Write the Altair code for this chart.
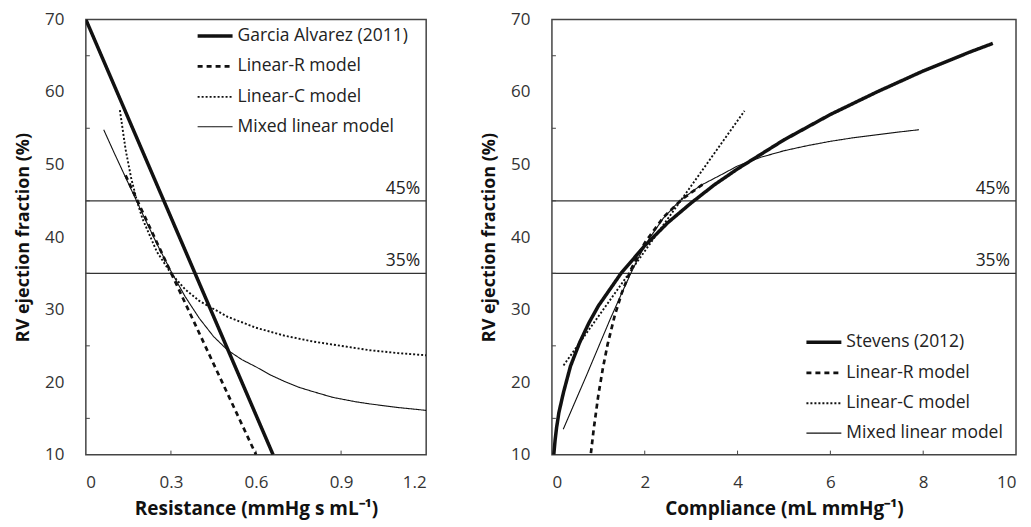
import altair as alt
import pandas as pd

# ---------------- data ----------------
# Left panel: EF vs resistance
left_series = ["Garcia Alvarez (2011)", "Linear-R model", "Linear-C model", "Mixed linear model"]

garcia_r = [0.0, 0.66]
garcia_ef = [70.0, 10.0]

linR_r = [0.14, 0.60]
linR_ef = [48.5, 10.0]

linC_r = [0.12, 0.14, 0.16, 0.18, 0.20, 0.25, 0.30, 0.35, 0.40, 0.50, 0.60, 0.70, 0.80, 0.90, 1.00, 1.10, 1.20]
linC_ef = [57.5, 52.1, 48.1, 45.0, 42.5, 38.0, 35.0, 32.8, 31.2, 29.0, 27.5, 26.4, 25.6, 25.0, 24.4, 24.0, 23.7]

mixL_r = [0.063, 0.10, 0.15, 0.20, 0.25, 0.30, 0.35, 0.40, 0.45, 0.50, 0.55, 0.60, 0.65, 0.70, 0.75, 0.80, 0.87, 0.95, 1.00, 1.10, 1.20]
mixL_ef = [54.8, 51.6, 47.4, 43.2, 39.1, 35.3, 31.8, 28.8, 26.3, 24.4, 23.1, 22.1, 21.0, 20.1, 19.3, 18.7, 17.9, 17.3, 17.0, 16.5, 16.1]

# Right panel: EF vs compliance
right_series = ["Stevens (2012)", "Linear-R model", "Linear-C model", "Mixed linear model"]

stev_c = [0.04, 0.07, 0.10, 0.15, 0.25, 0.40, 0.60, 0.80, 1.0, 1.5, 2.0, 2.5, 3.0, 3.5, 4.0, 5.0, 6.0, 7.0, 8.0, 9.0, 9.5]
stev_ef = [10.0, 12.1, 13.7, 15.8, 18.6, 22.2, 25.5, 28.2, 30.5, 35.1, 38.8, 42.0, 44.7, 47.2, 49.4, 53.4, 56.9, 60.0, 62.9, 65.5, 66.7]

linRc_c = [0.84, 0.90, 1.00, 1.10, 1.20, 1.35, 1.50, 1.70, 2.00, 2.40, 2.80, 3.30]
linRc_ef = [10.2, 13.5, 18.2, 22.0, 25.2, 29.1, 32.2, 35.5, 39.2, 42.7, 45.2, 47.5]

linCc_c = [0.25, 4.15]
linCc_ef = [22.3, 57.4]

mixR_c = [0.244, 0.5, 0.75, 1.0, 1.25, 1.5, 1.7, 1.9, 2.1, 2.4, 2.75, 3.2, 3.68, 4.0, 4.5, 5.0, 5.5, 6.0, 6.5, 7.0, 7.5, 7.91]
mixR_ef = [13.5, 17.3, 21.0, 24.8, 28.6, 32.2, 35.0, 37.6, 39.8, 42.6, 45.0, 47.1, 48.7, 49.8, 51.0, 51.9, 52.6, 53.2, 53.7, 54.1, 54.5, 54.8]

thresholds = [35, 45]
threshold_labels = ["35%", "45%"]

y_minor_ticks = [15, 25, 35, 45, 55, 65]
left_x_ticks = [0, 0.3, 0.6, 0.9, 1.2]
right_x_ticks = [0, 2, 4, 6, 8, 10]

FONT = "Open Sans"
W_L, W_R, H = 341, 465, 436


def frame(series_names, xs, ys):
    rows = []
    for name, xv, yv in zip(series_names, xs, ys):
        for i, (a, b) in enumerate(zip(xv, yv)):
            rows.append({"x": a, "y": b, "series": name, "i": i})
    return pd.DataFrame(rows)


def panel(df, series, xdom, xvals, xfmt, xtitle, width, leg_x, leg_y, xmax):
    xscale = alt.Scale(domain=xdom, nice=False, zero=False)
    yscale = alt.Scale(domain=[10, 70], nice=False, zero=False)
    xaxis = alt.Axis(values=xvals, title=xtitle, format=xfmt, titleFontSize=19)
    yaxis = alt.Axis(values=[10, 20, 30, 40, 50, 60, 70], title="RV ejection fraction (%)")

    leg = alt.Legend(title=None, orient="none", legendX=leg_x, legendY=leg_y,
                     symbolType="stroke", symbolSize=1225, symbolStrokeColor="#111",
                     labelFont=FONT, labelFontSize=17.5, labelColor="#222", labelLimit=0,
                     rowPadding=3, labelOffset=3, padding=0)

    lines = alt.Chart(df).mark_line(color="#111", clip=True).encode(
        x=alt.X("x:Q", scale=xscale, axis=xaxis),
        y=alt.Y("y:Q", scale=yscale, axis=yaxis),
        detail="series:N",
        order="i:Q",
        strokeDash=alt.StrokeDash("series:N", sort=series,
                                  scale=alt.Scale(domain=series, range=[[1, 0], [5, 4], [2, 2], [1, 0]]),
                                  legend=leg),
        strokeWidth=alt.StrokeWidth("series:N", sort=series,
                                    scale=alt.Scale(domain=series, range=[3.5, 1.1, 1.2, 1.2]),
                                    legend=leg),
    )

    thr = pd.DataFrame({"y": thresholds, "label": threshold_labels, "x": [xmax, xmax]})
    hl = alt.Chart(thr).mark_rule(color="#333", strokeWidth=1.3).encode(y="y:Q")
    ht = alt.Chart(thr).mark_text(align="right", baseline="bottom", dx=-6, dy=-3,
                                  font=FONT, fontSize=17.5, color="#222").encode(
        x="x:Q", y="y:Q", text="label:N")

    yt = alt.Chart(pd.DataFrame({"v": y_minor_ticks})).mark_rule(color="#444", strokeWidth=1).encode(
        y="v:Q", x=alt.value(0), x2=alt.value(4))
    xt = alt.Chart(pd.DataFrame({"v": xvals[1:-1]})).mark_rule(color="#444", strokeWidth=1).encode(
        x="v:Q", y=alt.value(H), y2=alt.value(H - 4))

    return alt.layer(hl, ht, yt, xt, lines).properties(width=width, height=H)


left_df = frame(left_series, [garcia_r, linR_r, linC_r, mixL_r], [garcia_ef, linR_ef, linC_ef, mixL_ef])
right_df = frame(right_series, [stev_c, linRc_c, linCc_c, mixR_c], [stev_ef, linRc_ef, linCc_ef, mixR_ef])

left = panel(left_df, left_series, [0, 1.2], left_x_ticks, ".1~f",
             "Resistance (mmHg s mL⁻¹)", W_L, 110, -3, 1.2)
right = panel(right_df, right_series, [0, 10], right_x_ticks, "d",
              "Compliance (mL mmHg⁻¹)", W_R, 253, 304, 10)

chart = alt.hconcat(left, right, spacing=51).resolve_scale(
    x="independent", strokeDash="independent", strokeWidth="independent"
).resolve_legend(strokeDash="independent", strokeWidth="independent").properties(
    padding={"left": 5, "top": 1, "right": 5, "bottom": 5}
).configure_view(
    stroke="#444", strokeWidth=1.5
).configure_axis(
    grid=False, domain=False, ticks=False,
    labelFont=FONT, labelFontSize=17, labelColor="#333",
    titleFont=FONT, titleFontSize=18, titleFontWeight="bold", titleColor="#111",
).configure_axisX(
    labelPadding=20, titlePadding=9
).configure_axisY(
    labelPadding=22, titlePadding=12
)

chart.save("out.html", embed_options={"renderer": "svg", "actions": False})
